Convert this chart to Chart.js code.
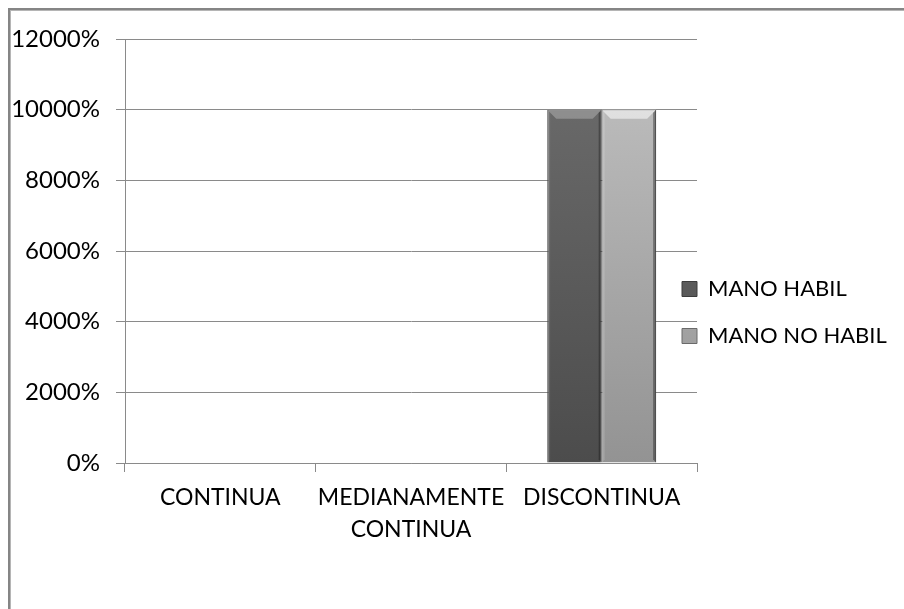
<!DOCTYPE html>
<html>
<head>
<meta charset="utf-8">
<script src="https://cdn.jsdelivr.net/npm/chart.js@4.4.1/dist/chart.umd.min.js"></script>
<style>
  html, body { margin: 0; padding: 0; background: #ffffff; }
  #wrap { position: relative; width: 904px; height: 609px; }
</style>
</head>
<body>
<div id="wrap"><canvas id="c" width="904" height="609"></canvas></div>
<script>
// ---- data ----
const categories = ['CONTINUA', ['MEDIANAMENTE', 'CONTINUA'], 'DISCONTINUA'];
const seriesNames = ['MANO HABIL', 'MANO NO HABIL'];
const manoHabil = [0, 0, 100];
const manoNoHabil = [0, 0, 100];
const yTicks = [0, 20, 40, 60, 80, 100, 120];

// ---- styling helpers ----
const FONT = 'Lato, "Open Sans", sans-serif';
const bevelColors = [
  { top: 'rgba(255,255,255,0.25)', right: 'rgba(0,0,0,0.30)', left: 'rgba(255,255,255,0.08)' },
  { top: 'rgba(255,255,255,0.55)', right: 'rgba(0,0,0,0.35)', left: 'rgba(255,255,255,0.15)' }
];
function vGrad(ctx, top, bottom) {
  const chart = ctx.chart;
  const a = chart.chartArea;
  if (!a) return top;
  const g = chart.ctx.createLinearGradient(0, a.top, 0, a.bottom);
  g.addColorStop(0, top);
  g.addColorStop(1, bottom);
  return g;
}

const frame = {
  id: 'frame',
  afterDraw(chart) {
    const c = chart.ctx;
    c.save();
    c.fillStyle = '#858585';
    c.fillRect(8, 8, chart.width, 2);
    c.fillRect(8, 8, 2, chart.height);
    c.fillStyle = '#b5b5b5';
    c.fillRect(10, 10, chart.width, 1);
    c.fillRect(10, 10, 1, chart.height);
    c.restore();
  }
};

const bevel = {
  id: 'bevel',
  afterDatasetsDraw(chart) {
    const c = chart.ctx;
    chart.data.datasets.forEach((ds, di) => {
      const meta = chart.getDatasetMeta(di);
      const col = bevelColors[di % bevelColors.length];
      meta.data.forEach((el) => {
        const h = el.base - el.y;
        if (h < 4) return;
        const x0 = el.x - el.width / 2, x1 = el.x + el.width / 2;
        const y0 = el.y, y1 = el.base;
        const b = Math.min(9, h / 2, el.width / 4);
        c.save();
        c.fillStyle = col.top;
        c.beginPath();
        c.moveTo(x0, y0); c.lineTo(x1, y0); c.lineTo(x1 - b, y0 + b); c.lineTo(x0 + b, y0 + b);
        c.closePath(); c.fill();
        c.fillStyle = col.right;
        c.beginPath();
        c.moveTo(x1, y0); c.lineTo(x1, y1); c.lineTo(x1 - 3, y1 - 3); c.lineTo(x1 - 3, y0 + 3);
        c.closePath(); c.fill();
        c.fillStyle = col.left;
        c.beginPath();
        c.moveTo(x0, y0); c.lineTo(x0 + 3, y0 + 3); c.lineTo(x0 + 3, y1 - 3); c.lineTo(x0, y1);
        c.closePath(); c.fill();
        c.restore();
      });
    });
  }
};

const LEG_BOX_X = 682;
const LEG_TEXT_CY = 289;
const legendPlace = {
  id: 'legendPlace',
  afterLayout(chart) {
    const l = chart.legend;
    if (!l || !l.columnSizes || !l.columnSizes.length) return;
    const pad = l.options.labels.padding;
    const dx = LEG_BOX_X - (l.left + pad);
    l.left += dx;
    l.right = Math.max(l.right, chart.width);
    l.width = l.right - l.left;
    const colH = l.columnSizes[0].height;
    const cy = ((l.top + pad) + (l.bottom - colH)) / 2;
    const itemH = l.options.labels.font.size;
    const dy = (LEG_TEXT_CY - itemH / 2) - cy;
    l.top += dy; l.bottom += dy;
  }
};

new Chart(document.getElementById('c'), {
  type: 'bar',
  data: {
    labels: categories,
    datasets: [
      {
        label: seriesNames[0],
        data: manoHabil,
        backgroundColor: (ctx) => vGrad(ctx, '#6e6e6e', '#4c4c4c'),
        borderColor: '#3c3c3c',
        borderWidth: 1,
        categoryPercentage: 0.571,
        barPercentage: 1.0
      },
      {
        label: seriesNames[1],
        data: manoNoHabil,
        backgroundColor: (ctx) => vGrad(ctx, '#c2c2c2', '#939393'),
        borderColor: '#6a6a6a',
        borderWidth: 1,
        categoryPercentage: 0.571,
        barPercentage: 1.0
      }
    ]
  },
  options: {
    responsive: false,
    animation: false,
    devicePixelRatio: 1,
    layout: { padding: { left: 10, top: 39, right: -22, bottom: 0 } },
    plugins: {
      legend: {
        position: 'right',
        align: 'center',
        labels: {
          font: { family: FONT, size: 22 },
          color: '#000000',
          boxWidth: 15,
          boxHeight: 15,
          padding: 25
        }
      },
      tooltip: { enabled: false },
      title: { display: false }
    },
    scales: {
      x: {
        offset: true,
        grid: {
          offset: true,
          drawOnChartArea: false,
          drawTicks: true,
          tickLength: 9,
          color: '#8a8a8a'
        },
        border: { display: true, color: '#8a8a8a', width: 1 },
        ticks: {
          font: { family: FONT, size: 23, lineHeight: 1.37 },
          color: '#000000',
          padding: 10,
          maxRotation: 0,
          autoSkip: false
        },
        afterFit(scale) { scale.height = 609 - 463; }
      },
      y: {
        min: 0,
        max: 120,
        afterBuildTicks(scale) { scale.ticks = yTicks.map(v => ({ value: v })); },
        grid: {
          drawOnChartArea: true,
          drawTicks: true,
          tickLength: 9,
          color: '#8a8a8a'
        },
        border: { display: true, color: '#8a8a8a', width: 1 },
        ticks: {
          font: { family: FONT, size: 24 },
          color: '#000000',
          padding: 16,
          callback: (v) => (v * 100) + '%'
        },
        afterFit(scale) { scale.width = 125 - 10; }
      }
    }
  },
  plugins: [legendPlace, bevel, frame]
});
</script>
</body>
</html>
